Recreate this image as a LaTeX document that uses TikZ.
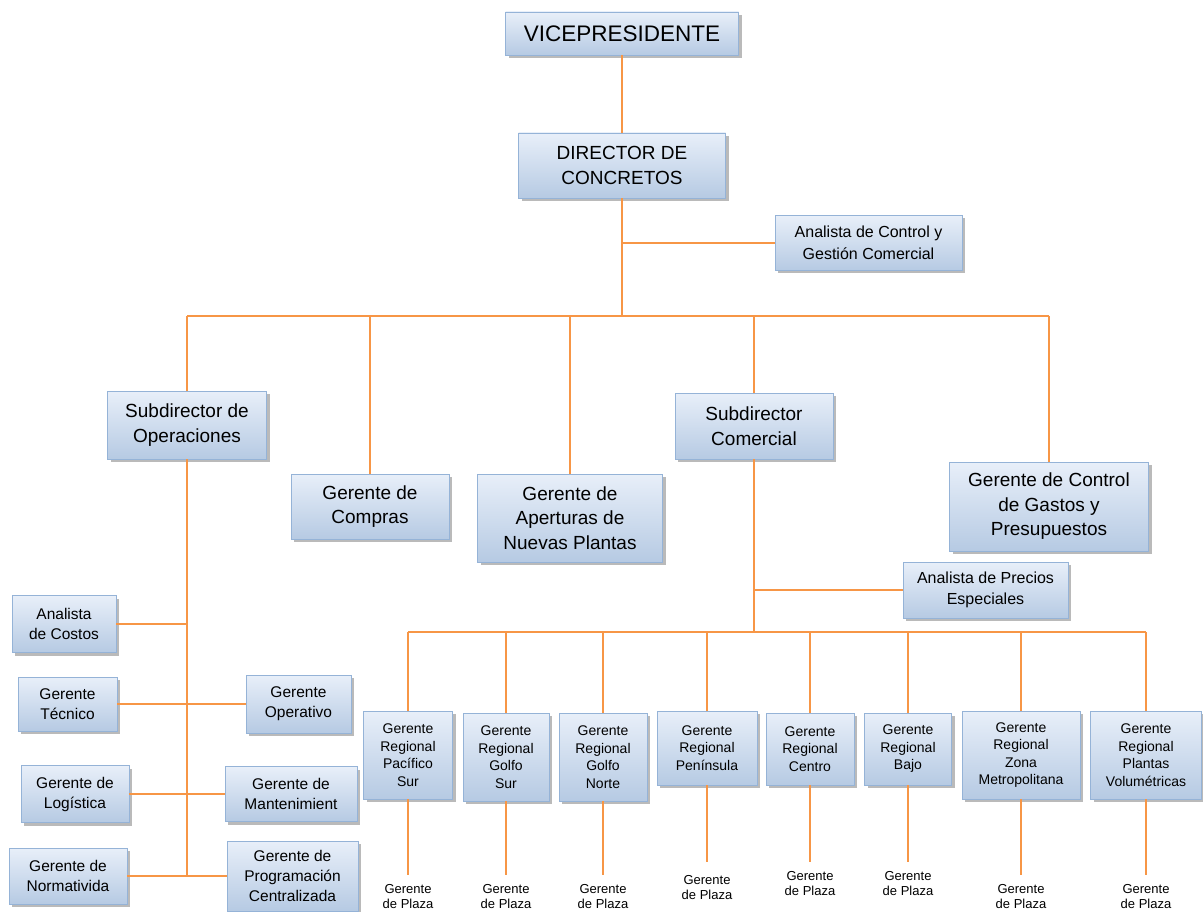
\documentclass[tikz,border=0pt]{standalone}
\usepackage{fontspec}
\setmainfont{Liberation Sans}
\usetikzlibrary{shadows,calc}

\definecolor{linkorange}{HTML}{F79646}
\definecolor{boxtop}{HTML}{E8EFF9}
\definecolor{boxbot}{HTML}{B6CAE3}
\definecolor{boxline}{HTML}{95B3D7}

\tikzset{
  orgbox/.style={draw=boxline, line width=0.9pt, top color=boxtop, bottom color=boxbot,
    align=center, inner sep=0pt,
    drop shadow={shadow xshift=3pt, shadow yshift=-3pt, fill=black!60, opacity=0.45}},
  link/.style={draw=linkorange, line width=1.5pt},
  plaza/.style={align=center, inner sep=0pt, anchor=north, font=\fontsize{13}{15.5}\selectfont},
  big/.style={font=\fontsize{19}{24.5}\selectfont},
  mid/.style={font=\fontsize{16}{21.5}\selectfont},
  side/.style={font=\fontsize{15.5}{20}\selectfont},
  reg/.style={font=\fontsize{14}{17.5}\selectfont},
}

\begin{document}
\begin{tikzpicture}[x=1pt,y=-1pt]
\useasboundingbox (0,0) rectangle (1203,912);
\fill[white] (0,0) rectangle (1203,912);

% top of the chart
\node[orgbox, minimum width=233, minimum height=43, font=\fontsize{22.5}{27}\selectfont] (vp) at (622,33.5) {VICEPRESIDENTE};
\node[orgbox, big, minimum width=207, minimum height=65] (dir) at (622,165.5) {DIRECTOR DE\\CONCRETOS};
\node[orgbox, mid, minimum width=187, minimum height=55] (ctrl) at (868.5,243) {Analista de Control y\\Gestión Comercial};

% second level
\node[orgbox, big, minimum width=159, minimum height=68] (subop) at (187,425) {Subdirector de\\Operaciones};
\node[orgbox, big, minimum width=158, minimum height=65] (comp) at (370,506.5) {Gerente de\\Compras};
\node[orgbox, big, minimum width=185, minimum height=88] (aper) at (570,518) {Gerente de\\Aperturas de\\Nuevas Plantas};
\node[orgbox, big, minimum width=158, minimum height=66] (subcom) at (754,426) {Subdirector\\Comercial};
\node[orgbox, big, minimum width=199, minimum height=89] (gasto) at (1049,506.5) {Gerente de Control\\de Gastos y\\Presupuestos};
\node[orgbox, mid, minimum width=165, minimum height=56] (precios) at (985.5,590) {Analista de Precios\\Especiales};

% operations branch
\node[orgbox, side, minimum width=104, minimum height=57] (costos) at (64,624) {Analista\\de Costos};
\node[orgbox, side, minimum width=99, minimum height=54] (tec) at (67.5,704) {Gerente\\Técnico};
\node[orgbox, side, minimum width=105, minimum height=58] (oper) at (298.5,704) {Gerente\\Operativo};
\node[orgbox, side, minimum width=108, minimum height=57] (log) at (75,794) {Gerente de\\Logística};
\node[orgbox, side, minimum width=132, minimum height=55] (man) at (291,794) {Gerente de\\Mantenimient};
\node[orgbox, side, minimum width=118, minimum height=56] (norm) at (68,876) {Gerente de\\Normativida};
\node[orgbox, side, minimum width=131, minimum height=70] (prog) at (292.5,876) {Gerente de\\Programación\\Centralizada};

% regional managers
\node[orgbox, reg, minimum width=89, minimum height=88] (r1) at (408,755) {Gerente\\Regional\\Pacífico\\Sur};
\node[orgbox, reg, minimum width=86, minimum height=88] (r2) at (506,757) {Gerente\\Regional\\Golfo\\Sur};
\node[orgbox, reg, minimum width=88, minimum height=88] (r3) at (603,757) {Gerente\\Regional\\Golfo\\Norte};
\node[orgbox, reg, minimum width=100, minimum height=74] (r4) at (707,748) {Gerente\\Regional\\Península};
\node[orgbox, reg, minimum width=88, minimum height=72] (r5) at (810,749) {Gerente\\Regional\\Centro};
\node[orgbox, reg, minimum width=87, minimum height=72] (r6) at (908,749) {Gerente\\Regional\\Bajo};
\node[orgbox, reg, minimum width=118, minimum height=88] (r7) at (1021,755) {Gerente\\Regional\\Zona\\Metropolitana};
\node[orgbox, reg, minimum width=111, minimum height=88] (r8) at (1146,755) {Gerente\\Regional\\Plantas\\Volumétricas};

% plaza managers
\node[plaza] (p1) at (408,884) {Gerente\\de Plaza};
\node[plaza] (p2) at (506,884) {Gerente\\de Plaza};
\node[plaza] (p3) at (603,884) {Gerente\\de Plaza};
\node[plaza] (p4) at (707,875) {Gerente\\de Plaza};
\node[plaza] (p5) at (810,871) {Gerente\\de Plaza};
\node[plaza] (p6) at (908,871) {Gerente\\de Plaza};
\node[plaza] (p7) at (1021,884) {Gerente\\de Plaza};
\node[plaza] (p8) at (1146,884) {Gerente\\de Plaza};

% buses
\coordinate (busL) at (187,316);
\coordinate (busR) at (1049,316);
\coordinate (cbusL) at (408,632);
\coordinate (cbusR) at (1146,632);

% connectors
\draw[link] (vp.south) -- (dir.north);
\draw[link] (dir.south) -- (dir.south |- busL);
\draw[link] (ctrl.west -| dir.south) -- (ctrl.west);
\draw[link] (busL) -- (busR);
\foreach \n in {subop,comp,aper,subcom,gasto}
  \draw[link] (\n.north |- busL) -- (\n.north);

\draw[link] (subop.south) -- (subop.south |- norm.east);
\draw[link] (costos.east) -- (costos.east -| subop.south);
\draw[link] (tec.east) -- (oper.west);
\draw[link] (log.east) -- (man.west);
\draw[link] (norm.east) -- (prog.west);

\draw[link] (subcom.south) -- (subcom.south |- cbusL);
\draw[link] (precios.west -| subcom.south) -- (precios.west);
\draw[link] (cbusL) -- (cbusR);
\foreach \n in {r1,r2,r3,r4,r5,r6,r7,r8}
  \draw[link] (\n.north |- cbusL) -- (\n.north);

\draw[link] (r1.south) -- ([yshift=9pt]p1.north);
\draw[link] (r2.south) -- ([yshift=9pt]p2.north);
\draw[link] (r3.south) -- ([yshift=9pt]p3.north);
\draw[link] (r4.south) -- ([yshift=13pt]p4.north);
\draw[link] (r5.south) -- ([yshift=9pt]p5.north);
\draw[link] (r6.south) -- ([yshift=9pt]p6.north);
\draw[link] (r7.south) -- ([yshift=9pt]p7.north);
\draw[link] (r8.south) -- ([yshift=9pt]p8.north);
\end{tikzpicture}
\end{document}
